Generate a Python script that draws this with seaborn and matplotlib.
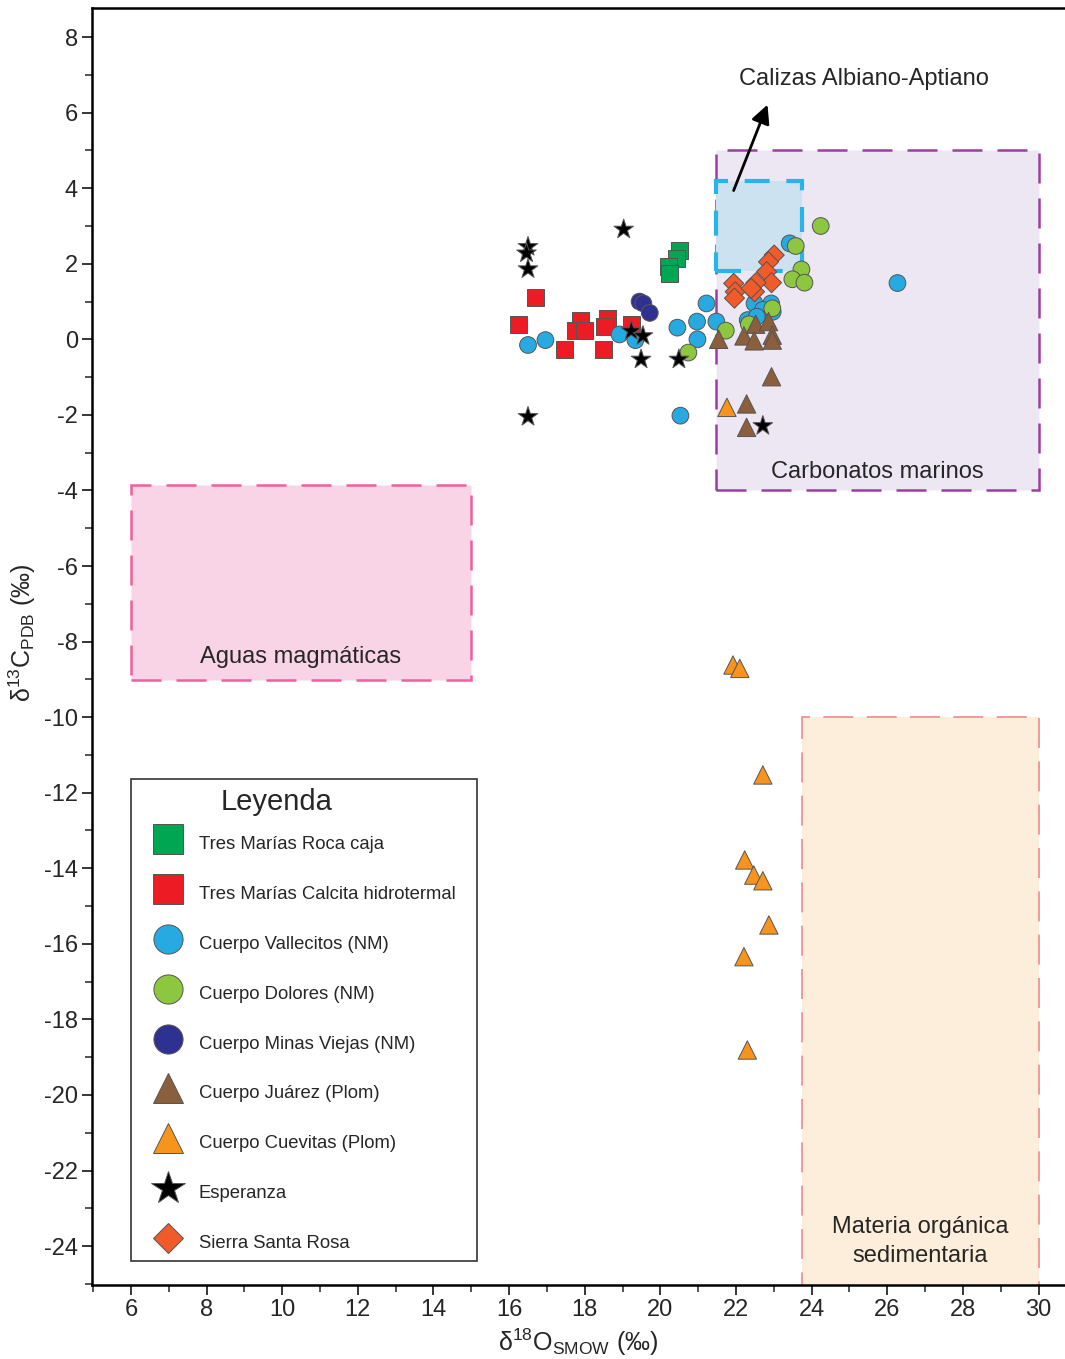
import numpy as np
import pandas as pd
import matplotlib.pyplot as plt
import seaborn as sns
from matplotlib.patches import Rectangle
from matplotlib.lines import Line2D
from matplotlib.ticker import MultipleLocator

sns.set_style('ticks')
plt.rcParams['font.family'] = ['Liberation Sans', 'DejaVu Sans']
plt.rcParams['mathtext.fontset'] = 'custom'
plt.rcParams['mathtext.rm'] = 'Liberation Sans'
plt.rcParams['mathtext.it'] = 'Liberation Sans:italic'
plt.rcParams['axes.unicode_minus'] = False

# datos (d18O SMOW, d13C PDB)
roca_x = [20.50, 20.43, 20.21, 20.25]
roca_y = [2.35, 2.14, 1.92, 1.75]

calcita_x = [16.70, 16.24, 17.90, 17.76, 18.00, 17.46, 18.60, 18.52, 18.50, 19.23]
calcita_y = [1.11, 0.40, 0.51, 0.23, 0.23, -0.26, 0.54, 0.35, -0.26, 0.38]

valle_x = [16.50, 16.96, 18.92, 19.34, 20.45, 21.22, 20.97, 20.98, 21.48, 20.53,
           26.27, 23.42, 22.49, 22.93, 22.71, 22.97, 22.31, 22.55]
valle_y = [-0.15, -0.02, 0.13, -0.02, 0.31, 0.95, 0.47, 0.00, 0.47, -2.02,
           1.49, 2.54, 0.95, 0.95, 0.78, 0.73, 0.51, 0.60]

dolores_x = [20.74, 21.73, 24.24, 23.58, 23.73, 23.49, 23.81, 22.96, 22.34]
dolores_y = [-0.35, 0.23, 3.00, 2.47, 1.85, 1.59, 1.50, 0.82, 0.40]

minas_x = [19.45, 19.55, 19.72]
minas_y = [1.00, 0.95, 0.70]

juarez_x = [21.54, 22.21, 22.52, 22.86, 22.48, 22.96, 22.96, 22.94, 22.28, 22.28]
juarez_y = [0.00, 0.09, 0.40, 0.47, -0.04, 0.11, -0.02, -0.99, -1.71, -2.33]

cuevitas_x = [21.76, 21.92, 22.10, 22.71, 22.23, 22.47, 22.71, 22.87, 22.21, 22.30]
cuevitas_y = [-1.80, -8.62, -8.71, -11.53, -13.78, -14.18, -14.33, -15.50, -16.34, -18.81]

esperanza_x = [16.50, 16.46, 16.50, 19.03, 16.50, 19.23, 19.54, 19.49, 20.49, 22.71]
esperanza_y = [2.45, 2.28, 1.86, 2.91, -2.05, 0.22, 0.09, -0.53, -0.53, -2.29]

ssr_x = [23.01, 22.86, 22.81, 22.94, 22.53, 22.49, 21.94, 21.98, 21.96, 22.40]
ssr_y = [2.23, 2.05, 1.79, 1.50, 1.50, 1.26, 1.48, 1.26, 1.09, 1.35]

grupos = ['Tres Marías Roca caja', 'Tres Marías Calcita hidrotermal',
          'Cuerpo Vallecitos (NM)', 'Cuerpo Dolores (NM)', 'Cuerpo Minas Viejas (NM)',
          'Cuerpo Juárez (Plom)', 'Cuerpo Cuevitas (Plom)', 'Esperanza', 'Sierra Santa Rosa']
xs = [roca_x, calcita_x, valle_x, dolores_x, minas_x, juarez_x, cuevitas_x, esperanza_x, ssr_x]
ys = [roca_y, calcita_y, valle_y, dolores_y, minas_y, juarez_y, cuevitas_y, esperanza_y, ssr_y]
colores = ['#00a651', '#ed1c24', '#27aae1', '#8dc63f', '#2e3192',
           '#8b5e3c', '#f7941d', '#000000', '#f15a29']
marcadores = ['s', 's', 'o', 'o', 'o', '^', '^', '*', 'D']
tam = [150, 150, 145, 145, 145, 175, 175, 220, 105]
tam_ley = [21, 21, 21, 21, 21, 22, 22, 25, 15]

df = pd.concat([pd.DataFrame({'x': x, 'y': y, 'grupo': g}) for g, x, y in zip(grupos, xs, ys)],
               ignore_index=True)

fig = plt.figure(figsize=(10.65, 13.59), dpi=100)
ax = fig.add_axes([92 / 1065, 74 / 1359, 1 - 92 / 1065, 1277 / 1359])

# campos de referencia
ax.add_patch(Rectangle((21.46, -4), 30 - 21.46, 9, facecolor='#ece7f3', edgecolor='#9b3fa0',
                       lw=1.8, ls=(0, (12, 6)), zorder=1))
ax.add_patch(Rectangle((21.46, 1.81), 23.74 - 21.46, 4.19 - 1.81, facecolor='#cce2f1',
                       edgecolor='#29b3ea', lw=3, ls=(0, (6, 4)), zorder=1.5))
ax.add_patch(Rectangle((6, -9.02), 9, 9.02 - 3.86, facecolor='#f9d4e6', edgecolor='#ee5fa0',
                       lw=1.8, ls=(0, (12, 6)), zorder=1))
ax.add_patch(Rectangle((23.74, -25.2), 30 - 23.74, 15.2, facecolor='#fdeedb', edgecolor='#f08a8a',
                       lw=1.2, ls=(0, (18, 8)), zorder=1))

sns.scatterplot(data=df, x='x', y='y', hue='grupo', style='grupo', size='grupo',
                hue_order=grupos, style_order=grupos, size_order=grupos,
                palette=dict(zip(grupos, colores)), markers=dict(zip(grupos, marcadores)),
                sizes=dict(zip(grupos, tam)), edgecolor='#555555', linewidth=0.7,
                legend=False, ax=ax, zorder=3)

ax.text(25.75, -3.52, 'Carbonatos marinos', ha='center', va='center', fontsize=17, zorder=4)
ax.text(10.49, -8.41, 'Aguas magmáticas', ha='center', va='center', fontsize=17, zorder=4)
ax.text(26.86, -23.88, 'Materia orgánica\nsedimentaria', ha='center', va='center',
        fontsize=17, zorder=4, linespacing=1.38)
ax.text(25.38, 6.89, 'Calizas Albiano-Aptiano', ha='center', va='center', fontsize=17, zorder=4)
ax.annotate('', xy=(22.86, 6.28), xytext=(21.91, 3.87),
            arrowprops=dict(arrowstyle='-|>', color='black', lw=2, mutation_scale=28), zorder=4)

ax.set_xlim(4.97, 30.7)
ax.set_ylim(-25.03, 8.77)
ax.xaxis.set_major_locator(MultipleLocator(2))
ax.xaxis.set_minor_locator(MultipleLocator(1))
ax.yaxis.set_major_locator(MultipleLocator(2))
ax.yaxis.set_minor_locator(MultipleLocator(1))
ax.set_xticks(np.arange(6, 31, 2))
ax.set_yticks(np.arange(-24, 9, 2))
ax.tick_params(which='major', direction='out', length=7, width=1.3, labelsize=17, pad=3)
ax.tick_params(which='minor', direction='out', length=5, width=1.1)
ax.spines['right'].set_visible(False)
for s in ['left', 'bottom', 'top']:
    ax.spines[s].set_linewidth(1.8)
    ax.spines[s].set_color('black')

ax.set_xlabel('δ$^{18}$O$_{\\mathrm{SMOW}}$ (‰)', fontsize=18, labelpad=4)
ax.set_ylabel('δ$^{13}$C$_{\\mathrm{PDB}}$ (‰)', fontsize=18)
ax.yaxis.set_label_coords(-0.056, 0.511)

# leyenda: marco y titulo aparte para controlar el tamano
ax.add_patch(Rectangle((6, -24.4), 9.15, 24.4 - 11.64, facecolor='white', edgecolor='#333333',
                       lw=1.2, zorder=4.5))
ax.text(9.86, -12.25, 'Leyenda', ha='center', va='center', fontsize=21, zorder=5)
handles = [Line2D([], [], ls='', marker=m, markersize=ms, markerfacecolor=c,
                  markeredgecolor='#555555', markeredgewidth=0.7)
           for m, ms, c in zip(marcadores, tam_ley, colores)]
leg = ax.legend(handles, grupos, loc='upper left',
                bbox_to_anchor=(6.49, -12.97), bbox_transform=ax.transData, borderaxespad=0,
                fontsize=13.3, frameon=False, labelspacing=1.15, handleheight=2.0,
                handletextpad=0.68, borderpad=0, handlelength=2.0)
leg.set_zorder(5)

fig.savefig('out.png', dpi=100)
